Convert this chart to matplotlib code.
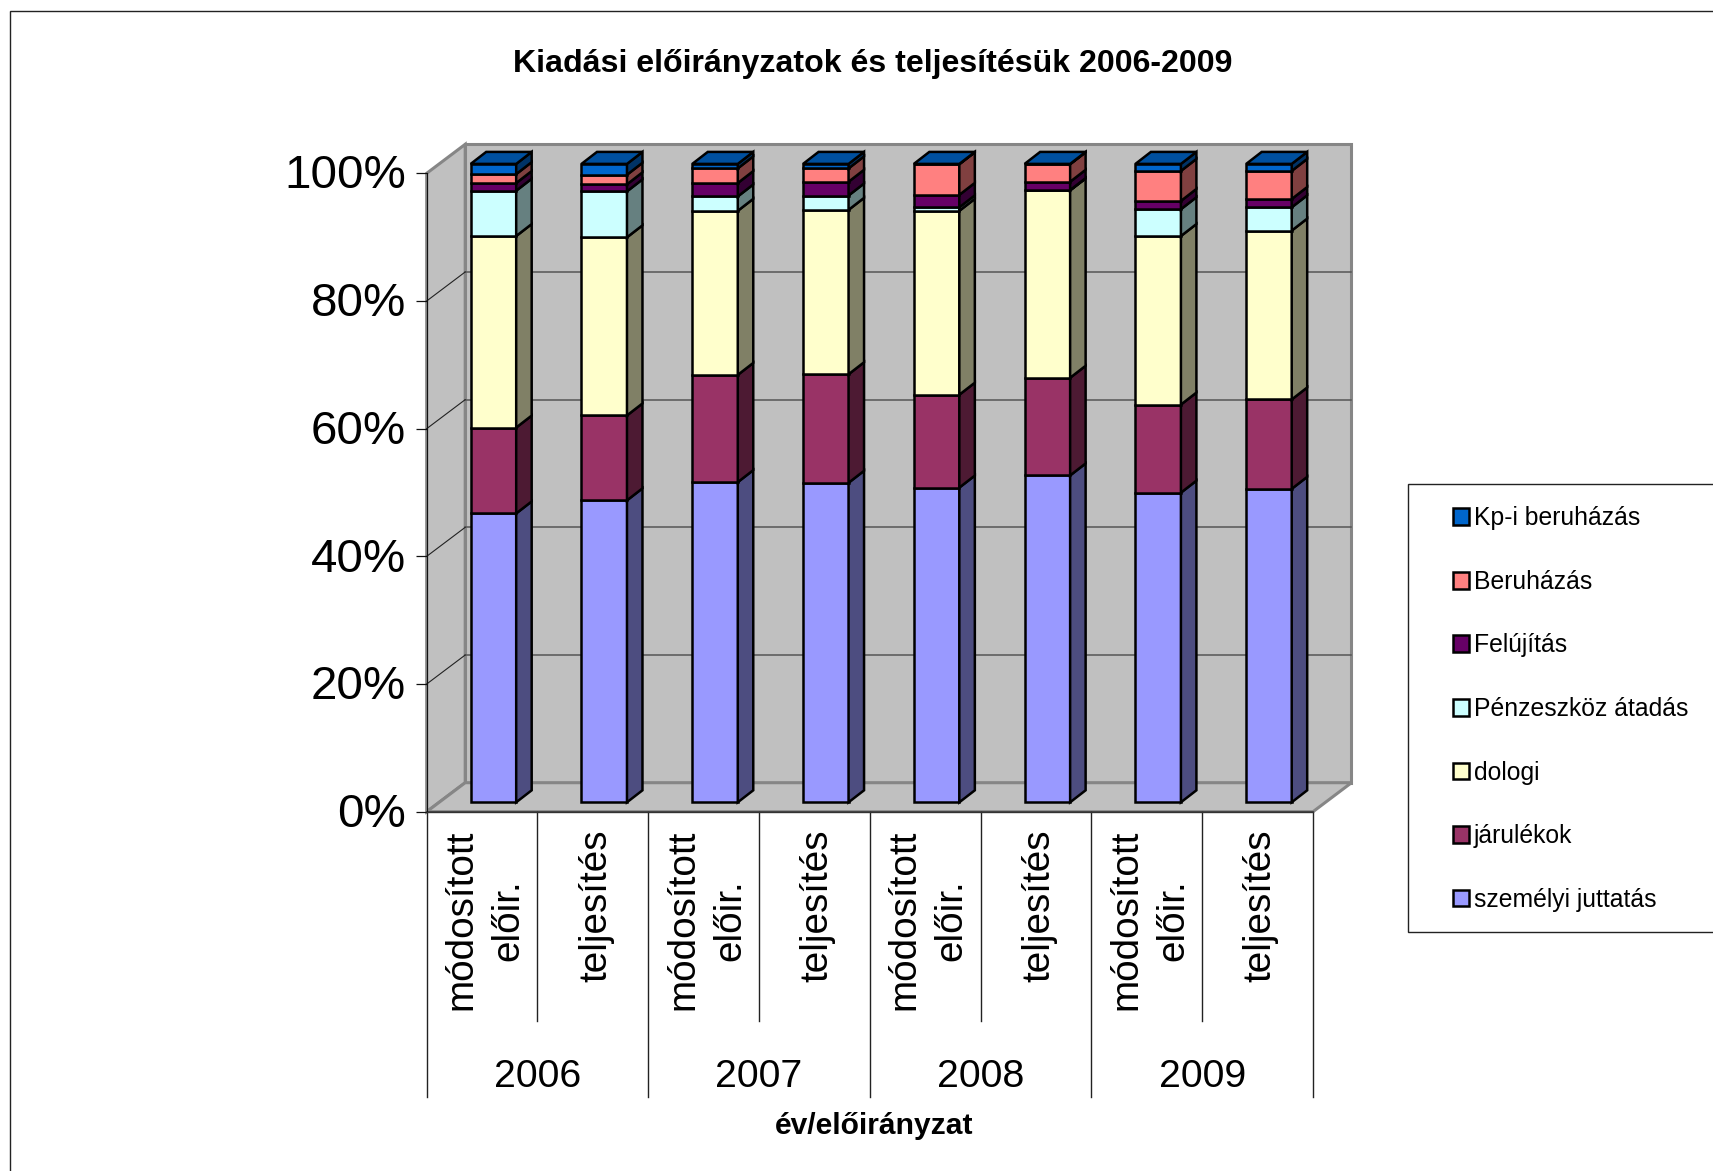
import numpy as np
import matplotlib
matplotlib.use("Agg")
import matplotlib.pyplot as plt
from matplotlib.patches import Patch, Rectangle
from matplotlib.transforms import Affine2D

plt.rcParams['font.family'] = ['Liberation Sans', 'DejaVu Sans']

W, H = 1713, 1171
years = ['2006', '2007', '2008', '2009']
categories = ['módosított\nelőir.', 'teljesítés'] * 4
series_names = ['személyi juttatás', 'járulékok', 'dologi', 'Pénzeszköz átadás',
                'Felújítás', 'Beruházás', 'Kp-i beruházás']
szemelyi = [45.25, 47.3, 50.15, 50.05, 49.3, 51.2, 48.5, 49.1]
jarulekok = [13.45, 13.3, 16.8, 17.0, 14.55, 15.3, 13.8, 14.0]
dologi = [30.0, 27.9, 25.7, 25.75, 28.8, 29.35, 26.4, 26.45]
penzeszkoz = [7.1, 7.2, 2.25, 2.25, 0.55, 0.05, 4.2, 3.65]
felujitas = [1.2, 1.1, 2.1, 2.15, 1.95, 1.3, 1.3, 1.3]
beruhazas = [1.4, 1.5, 2.3, 2.1, 4.8, 2.75, 4.7, 4.4]
kp_beruhazas = [1.6, 1.7, 0.7, 0.7, 0.05, 0.05, 1.1, 1.1]
series = [szemelyi, jarulekok, dologi, penzeszkoz, felujitas, beruhazas, kp_beruhazas]
yticks = [0, 20, 40, 60, 80, 100]

colors = ['#9999FF', '#993366', '#FFFFCC', '#CCFFFF', '#660066', '#FF8080', '#0066CC']
sides = ['#4D4D80', '#4D1A33', '#808066', '#668080', '#330033', '#804040', '#003366']
top_color = '#00509F'

fig = plt.figure(figsize=(W / 100, H / 100), dpi=100, facecolor='white')
ax = fig.add_axes([426.7 / W, (H - 811.7) / H, (1313 - 426.7) / W, (811.7 - 173.3) / H])
ax.set_xlim(0, 8)
ax.set_ylim(0, 100)
ax.set_facecolor('none')

# outer chart border, running off the canvas on the right and bottom
fig.add_artist(Rectangle((10 / W, -0.05), 1.1, (H - 11) / H + 0.05, transform=fig.transFigure,
                         fc='none', ec='#222222', lw=1.0))

WX, WY = 38.5 / 110.8, 29 / 6.384     # wall depth
DX, DY = 15.5 / 110.8, 12 / 6.384     # bar depth
FY = 9.4 / 6.384                      # front-plane lift of bars
BX, BW = 44 / 110.8, 45.5 / 110.8     # bar start and width
EDGE = 1.8

wall = '#C0C0C0'
wall_edge = '#868686'
ax.fill([WX, 8 + WX, 8 + WX, WX], [WY, WY, 100 + WY, 100 + WY], fc=wall, ec=wall_edge, lw=2.2, clip_on=False, zorder=1)
ax.fill([0, WX, WX, 0], [0, WY, 100 + WY, 100], fc=wall, ec=wall_edge, lw=2.2, clip_on=False, zorder=1)
ax.fill([0, 8, 8 + WX, WX], [0, 0, WY, WY], fc=wall, ec=wall_edge, lw=2.2, clip_on=False, zorder=1)
for t in yticks[1:-1]:
    ax.plot([WX, 8 + WX], [t + WY, t + WY], color='#555555', lw=1.1, clip_on=False, zorder=1.5)
    ax.plot([0, WX], [t, t + WY], color='#222222', lw=0.8, clip_on=False, zorder=1.5)
ax.plot([0, 8], [0, 0], color='#333333', lw=1.1, clip_on=False, zorder=1.6)

arr = np.array(series)
cum = np.cumsum(arr, axis=0)
for i in range(arr.shape[1]):
    x0 = i + BX
    x1 = x0 + BW
    z = 3 + i
    for s in range(arr.shape[0]):
        b = cum[s, i] - arr[s, i] + FY
        t = cum[s, i] + FY
        ax.bar(x0, arr[s, i], BW, bottom=b, align='edge', color=colors[s], edgecolor='black',
               lw=EDGE, clip_on=False, zorder=z)
        ax.fill([x1, x1 + DX, x1 + DX, x1], [b, b + DY, t + DY, t], fc=sides[s], ec='black',
                lw=EDGE, clip_on=False, zorder=z)
    t = cum[-1, i] + FY
    ax.fill([x0, x1, x1 + DX, x0 + DX], [t, t, t + DY, t + DY], fc=top_color, ec='black',
            lw=EDGE, clip_on=False, zorder=z)

for sp in ['top', 'right']:
    ax.spines[sp].set_visible(False)
ax.spines['left'].set_color('#111111')
ax.spines['bottom'].set_color('#333333')

ax.set_yticks(yticks)
ax.set_yticklabels([f'{v}%' for v in yticks], fontsize=34.2)
ax.tick_params(axis='y', length=8, width=0.9, pad=7, color='#111111')
for lab in ax.get_yticklabels():
    lab.set_transform(lab.get_transform() + Affine2D().translate(0, 1.8))

ax.set_xticks(np.arange(8) + 0.5)
ax.set_xticklabels(categories, rotation=90, fontsize=27.8, ha='center', va='top', multialignment='center',
                   linespacing=1.39)
ax.tick_params(axis='x', length=0, pad=13)
for lab in ax.get_xticklabels():
    lab.set_transform(lab.get_transform() + Affine2D().translate(3.0, 0))

SHORT = -209 / 6.384
LONG = -285.6 / 6.384
for i in range(9):
    ax.plot([i, i], [0, LONG if i % 2 == 0 else SHORT], color='#222222', lw=1.0, clip_on=False, zorder=2)
for j, y in enumerate(years):
    ax.text(2 * j + 1, -41.5, y, fontsize=28.3, ha='center', va='center')

fig.text(873 / W, 1 - 64 / H, 'Kiadási előirányzatok és teljesítésük 2006-2009', fontsize=23.1,
         fontweight='bold', ha='center', va='center')
fig.text(874 / W, 1 - 1126 / H, 'év/előirányzat', fontsize=21.6, fontweight='bold', ha='center', va='center')

# legend
fig.add_artist(Rectangle((1408 / W, (H - 932) / H), 0.3, 448 / H, transform=fig.transFigure,
                         fc='white', ec='#222222', lw=1.0))
handles = [Patch(facecolor=c, edgecolor='black', lw=EDGE, label=n) for c, n in zip(colors, series_names)][::-1]
leg = fig.legend(handles=handles, loc='upper left', bbox_to_anchor=(1452.7 / W, 1 - 506.3 / H), frameon=False,
                 fontsize=17.8, borderpad=0, borderaxespad=0, handlelength=0.66, handleheight=0.66,
                 handletextpad=0.2, labelspacing=1.6)
leg.set_zorder(10)

fig.savefig('out.png', dpi=100)
